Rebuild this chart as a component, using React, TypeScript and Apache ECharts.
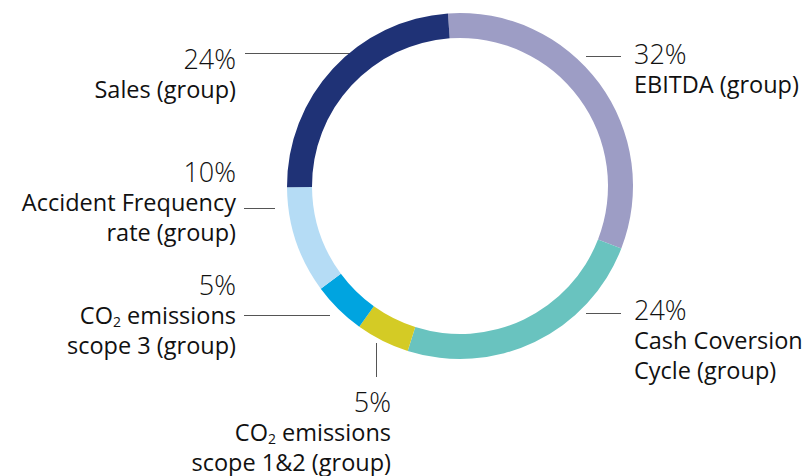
import React, { useEffect, useRef } from "react";
import * as echarts from "echarts";

const categories = [
  "EBITDA (group)",
  "Cash Coversion Cycle (group)",
  "CO2 emissions scope 1&2 (group)",
  "CO2 emissions scope 3 (group)",
  "Accident Frequency rate (group)",
  "Sales (group)",
];
const values = [32, 24, 5, 5, 10, 24];
const labelLines = [
  ["EBITDA (group)"],
  ["Cash Coversion", "Cycle (group)"],
  ["CO2 emissions", "scope 1&2 (group)"],
  ["CO2 emissions", "scope 3 (group)"],
  ["Accident Frequency", "rate (group)"],
  ["Sales (group)"],
];
const colors = ["#9d9dc5", "#69c3bf", "#d4cb25", "#00a4e0", "#b5dcf5", "#1f3276"];

// label placement (layout only)
const labelPos = [
  { x: 634, y: 38, align: "left", line: [[586, 56.5], [621, 56.5]] },
  { x: 634, y: 294, align: "left", line: [[586, 313.5], [621, 313.5]] },
  { x: 391, y: 386, align: "right", line: [[376.5, 343], [376.5, 377]] },
  { x: 236, y: 269, align: "right", line: [[330, 315.5], [244, 315.5]] },
  { x: 236, y: 156, align: "right", line: [[275, 208.5], [244, 208.5]] },
  { x: 236, y: 43, align: "right", line: [[362, 53.5], [245, 53.5]] },
];

function richLine(s: string) {
  if (s.startsWith("CO2")) {
    return "{n|CO}{s|2}{n|" + s.slice(3) + "}";
  }
  return "{n|" + s + "}";
}

export default function App() {
  const ref = useRef<HTMLDivElement>(null);
  useEffect(() => {
    if (!ref.current) return;
    const chart = echarts.init(ref.current, null, { renderer: "svg" });
    chart.setOption({
      animation: false,
      backgroundColor: "#ffffff",
      series: [
        {
          type: "pie",
          center: [460, 186],
          radius: [148, 173],
          startAngle: 94,
          clockwise: true,
          avoidLabelOverlap: false,
          silent: true,
          data: categories.map((c, i) => ({
            name: c,
            value: values[i],
            itemStyle: { color: colors[i] },
          })),
          label: {
            show: true,
            position: "outside",
            fontFamily: "Open Sans",
            formatter: (p: any) => {
              const i = p.dataIndex;
              return (
                "{p|" + values[i] + "%}\n" + labelLines[i].map(richLine).join("\n")
              );
            },
            rich: {
              p: {
                fontFamily: "Open Sans",
                fontSize: 27,
                fontWeight: 300,
                color: "#111111",
                lineHeight: 31,
              },
              n: {
                fontFamily: "Open Sans",
                fontSize: 23.5,
                fontWeight: 400,
                color: "#111111",
                lineHeight: 30,
              },
              s: {
                fontFamily: "Open Sans",
                fontSize: 14,
                fontWeight: 400,
                color: "#111111",
                lineHeight: 30,
                padding: [12, 0, 0, 0],
              },
            },
          },
          labelLine: {
            show: true,
            showAbove: true,
            lineStyle: { color: "#555555", width: 1 },
          },
          labelLayout: (params: any) => {
            const lp = labelPos[params.dataIndex];
            const pts = [lp.line[0], lp.line[0], lp.line[1]];
            return {
              x: lp.x,
              y: lp.y,
              align: lp.align,
              verticalAlign: "top",
              labelLinePoints: pts,
            };
          },
        },
      ],
    });
    return () => chart.dispose();
  }, []);
  return (
    <div
      ref={ref}
      style={{ position: "fixed", left: 0, top: 0, width: 812, height: 476 }}
    />
  );
}
